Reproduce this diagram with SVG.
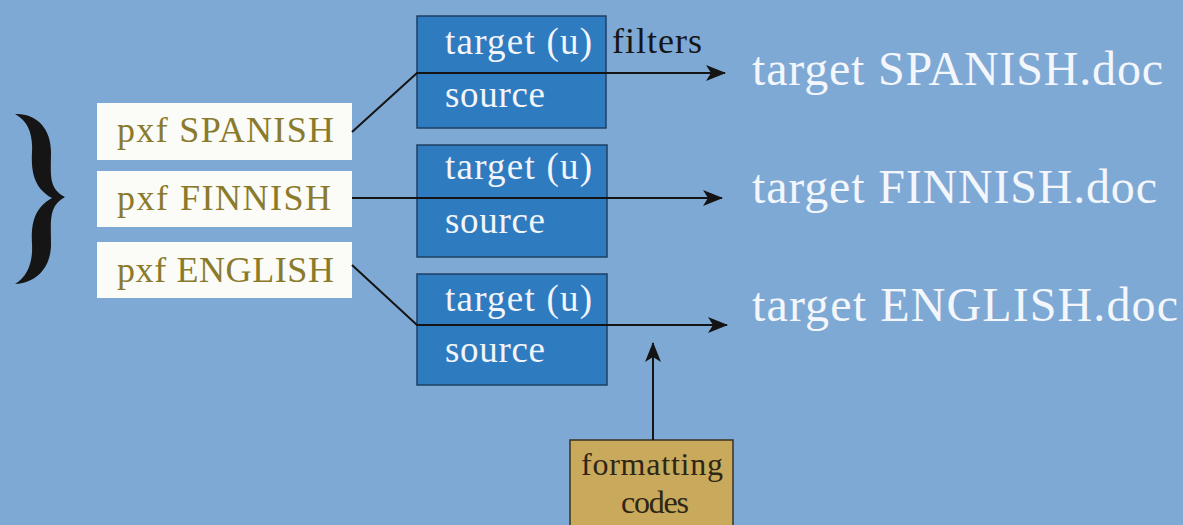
<svg xmlns="http://www.w3.org/2000/svg" width="1183" height="525" viewBox="0 0 1183 525">
  <defs>
    <marker id="arrow" viewBox="0 0 20 16" refX="19" refY="8" markerWidth="20" markerHeight="16" markerUnits="userSpaceOnUse" orient="auto">
      <path d="M0,0 L20,8 L0,16 L5,8 Z" fill="#141414"/>
    </marker>
    <style>
      text { font-family: "Liberation Serif", "Times New Roman", serif; }
      .pxf rect { fill: #fbfbf7; }
      .pxf text { fill: #8a7a2c; font-size: 36px; }
      .filter rect { fill: #2f7bbf; stroke: #1f3f63; stroke-width: 1.5; }
      .filter text { fill: #f2f5fa; font-size: 37px; }
      .out { fill: #f3f6fb; font-size: 48px; }
      .label { fill: #161616; font-size: 36px; }
      .fmt rect { fill: #c9a95b; stroke: #3a3220; stroke-width: 1.5; }
      .fmt text { fill: #2e2616; font-size: 32px; text-anchor: middle; }
      .wire { fill: none; stroke: #141414; stroke-width: 2; marker-end: url(#arrow); }
    </style>
  </defs>

  <rect x="0" y="0" width="1183" height="525" fill="#7fa9d5"/>

  <!-- brace grouping the three pxf files -->
  <path id="brace" fill="#151515" d="M15,114 C36,113 51,128 51,152 C51,174 48,188 65,197 C48,206 51,222 51,244 C51,268 36,283 15,284 C28,276 33,262 32,244 C31,224 34,208 52,198 C34,188 31,172 32,152 C33,134 28,121 15,114 Z"/>

  <!-- language sources -->
  <g id="pxf-spanish" class="pxf">
    <rect x="97" y="103" width="255" height="57"/>
    <text x="117" y="142" textLength="217">pxf SPANISH</text>
  </g>
  <g id="pxf-finnish" class="pxf">
    <rect x="97" y="171" width="255" height="56"/>
    <text x="117" y="210" textLength="214">pxf FINNISH</text>
  </g>
  <g id="pxf-english" class="pxf">
    <rect x="97" y="242" width="255" height="56"/>
    <text x="117" y="282" textLength="217">pxf ENGLISH</text>
  </g>

  <!-- filter boxes -->
  <g id="filter-1" class="filter">
    <rect x="417" y="16" width="189" height="112"/>
    <text x="445" y="54" textLength="147">target (u)</text>
    <text x="445" y="107" textLength="100">source</text>
  </g>
  <g id="filter-2" class="filter">
    <rect x="417" y="145" width="190" height="112"/>
    <text x="445" y="179" textLength="147">target (u)</text>
    <text x="445" y="233" textLength="100">source</text>
  </g>
  <g id="filter-3" class="filter">
    <rect x="417" y="274" width="190" height="111"/>
    <text x="445" y="311" textLength="147">target (u)</text>
    <text x="445" y="362" textLength="100">source</text>
  </g>

  <g id="filters-label">
    <text class="label" x="612" y="53" textLength="90">filters</text>
  </g>

  <!-- formatting codes -->
  <g id="formatting-codes" class="fmt">
    <rect x="570" y="440" width="163" height="100"/>
    <text x="652" y="475" textLength="142">formatting</text>
    <text x="655" y="513" textLength="68">codes</text>
  </g>

  <!-- output documents -->
  <g id="doc-spanish">
    <text class="out" x="752" y="85" textLength="411">target SPANISH.doc</text>
  </g>
  <g id="doc-finnish">
    <text class="out" x="752" y="203" textLength="405">target FINNISH.doc</text>
  </g>
  <g id="doc-english">
    <text class="out" x="752" y="321" textLength="426">target ENGLISH.doc</text>
  </g>

  <!-- connectors -->
  <g id="connectors">
    <path class="wire" d="M352,132 L417,73 L725,73"/>
    <path class="wire" d="M352,198 L722,198"/>
    <path class="wire" d="M352,265 L417,325 L727,325"/>
    <path class="wire" d="M653,440 L653,343"/>
  </g>
</svg>
